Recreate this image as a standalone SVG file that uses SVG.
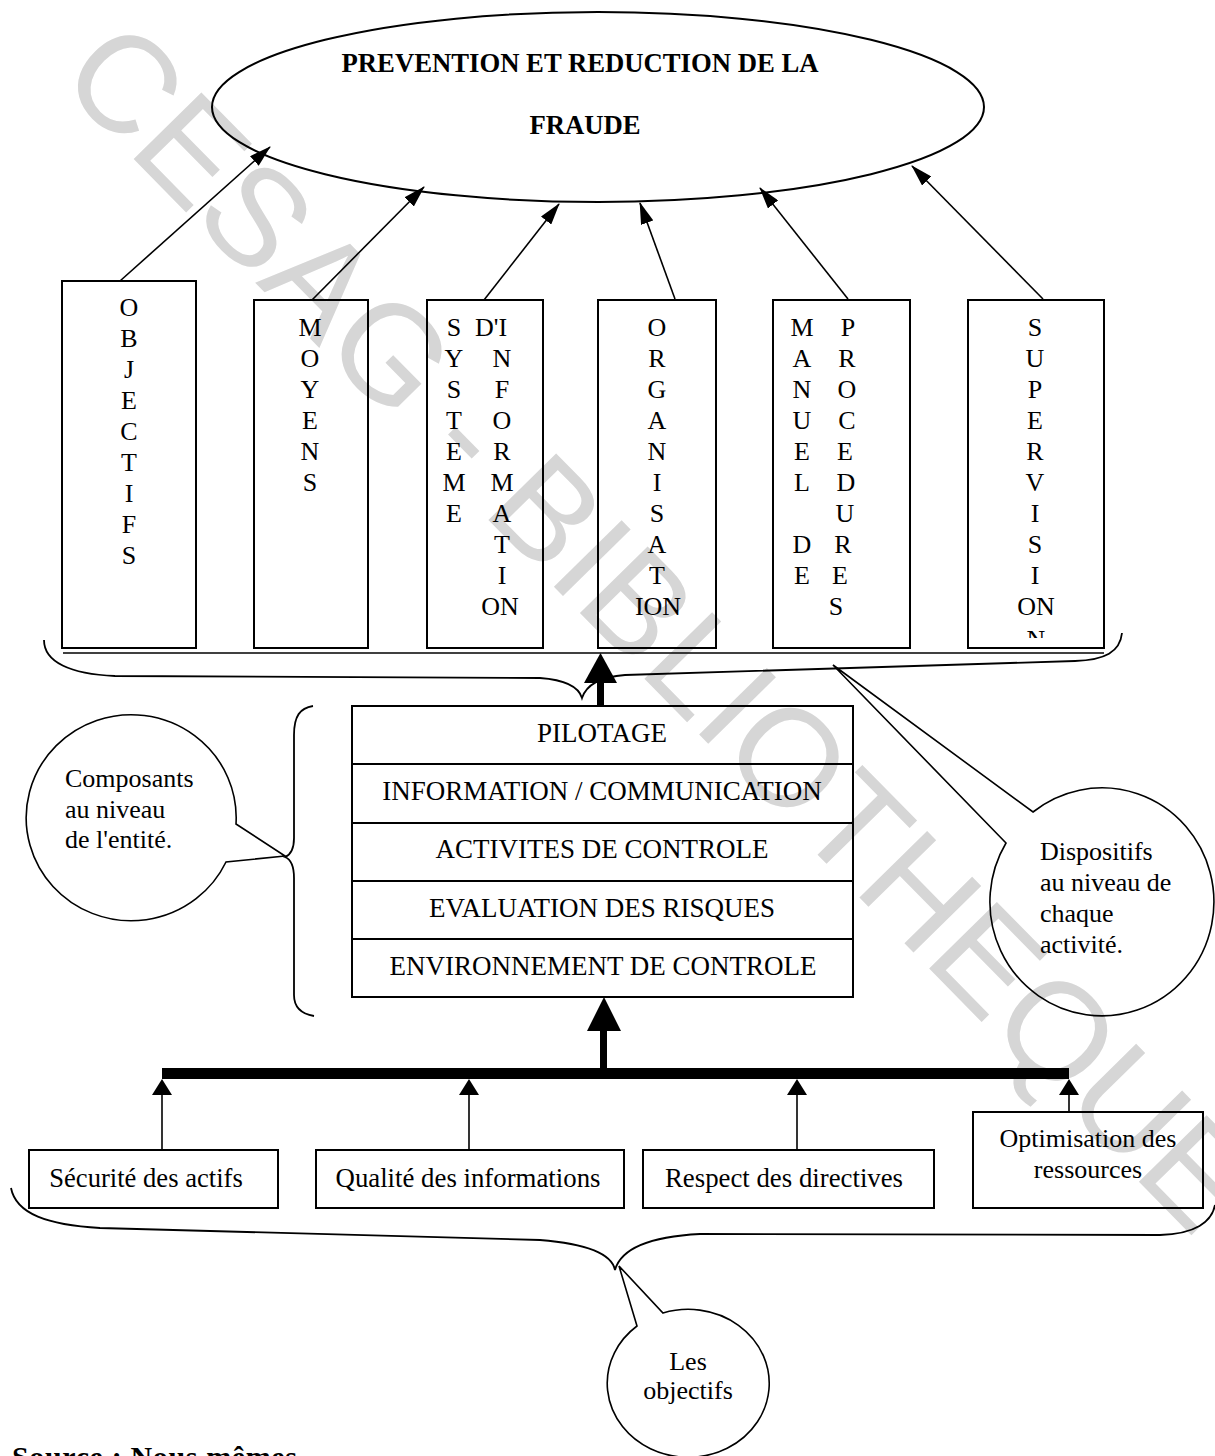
<svg xmlns="http://www.w3.org/2000/svg" width="1215" height="1456" viewBox="0 0 1215 1456">
  <defs>
    <style>
      .ln { stroke:#000; stroke-width:1.6; fill:none; }
      .br { stroke:#000; stroke-width:1.8; fill:none; }
      .box { fill:none; stroke:#000; stroke-width:2; }
      .t { font-family:"Liberation Serif","Times New Roman",serif; font-size:26px; fill:#000; }
      .s27 { font-size:27px; }
      .c { text-anchor:middle; }
      .b { font-weight:bold; }
      .wm { font-family:"Liberation Sans",Arial,sans-serif; font-size:138px; fill:#d6d6d6; }
    </style>
    <marker id="ah" viewBox="0 0 22 13" refX="21" refY="6.5" markerWidth="22" markerHeight="13" markerUnits="userSpaceOnUse" orient="auto">
      <path d="M0,0 L22,6.5 L0,13 z" fill="#000"/>
    </marker>
    <clipPath id="supclip"><rect x="968" y="300" width="136" height="338"/></clipPath>
  </defs>

  <rect width="1215" height="1456" fill="#fff"/>

  <!-- library watermark -->
  <text class="wm" transform="translate(56,80) rotate(45.5)">CESAG - BIBLIOTHEQUE</text>

  <!-- goal ellipse -->
  <g id="goal">
    <ellipse cx="598" cy="107" rx="386" ry="95" class="box"/>
    <text class="t c b" x="580" y="72" style="font-size:26.7px">PREVENTION ET REDUCTION DE LA</text>
    <text class="t c b" x="585" y="134" style="font-size:26.7px">FRAUDE</text>
  </g>

  <!-- activity-level devices -->
  <g id="objectifs">
    <rect class="box" x="62" y="281" width="134" height="367"/>
    <text class="t c" x="129" y="316"><tspan x="129">O</tspan><tspan x="129" dy="31">B</tspan><tspan x="129" dy="31">J</tspan><tspan x="129" dy="31">E</tspan><tspan x="129" dy="31">C</tspan><tspan x="129" dy="31">T</tspan><tspan x="129" dy="31">I</tspan><tspan x="129" dy="31">F</tspan><tspan x="129" dy="31">S</tspan></text>
  </g>
  <g id="moyens">
    <rect class="box" x="254" y="300" width="114" height="348"/>
    <text class="t c" x="310" y="336"><tspan x="310">M</tspan><tspan x="310" dy="31">O</tspan><tspan x="310" dy="31">Y</tspan><tspan x="310" dy="31">E</tspan><tspan x="310" dy="31">N</tspan><tspan x="310" dy="31">S</tspan></text>
  </g>
  <g id="systeme">
    <rect class="box" x="427" y="300" width="116" height="348"/>
    <text class="t c" x="454" y="336"><tspan x="454">S</tspan><tspan x="454" dy="31">Y</tspan><tspan x="454" dy="31">S</tspan><tspan x="454" dy="31">T</tspan><tspan x="454" dy="31">E</tspan><tspan x="454" dy="31">M</tspan><tspan x="454" dy="31">E</tspan></text>
    <text class="t" x="475" y="336">D'I</text>
    <text class="t c" x="502" y="367"><tspan x="502">N</tspan><tspan x="502" dy="31">F</tspan><tspan x="502" dy="31">O</tspan><tspan x="502" dy="31">R</tspan><tspan x="502" dy="31">M</tspan><tspan x="502" dy="31">A</tspan><tspan x="502" dy="31">T</tspan><tspan x="502" dy="31">I</tspan><tspan x="500" dy="31">ON</tspan></text>
  </g>
  <g id="organisation">
    <rect class="box" x="598" y="300" width="118" height="348"/>
    <text class="t c" x="657" y="336"><tspan x="657">O</tspan><tspan x="657" dy="31">R</tspan><tspan x="657" dy="31">G</tspan><tspan x="657" dy="31">A</tspan><tspan x="657" dy="31">N</tspan><tspan x="657" dy="31">I</tspan><tspan x="657" dy="31">S</tspan><tspan x="657" dy="31">A</tspan><tspan x="657" dy="31">T</tspan><tspan x="658" dy="31">ION</tspan></text>
  </g>
  <g id="manuel">
    <rect class="box" x="773" y="300" width="137" height="348"/>
    <text class="t c" x="802" y="336"><tspan x="802">M</tspan><tspan x="802" dy="31">A</tspan><tspan x="802" dy="31">N</tspan><tspan x="802" dy="31">U</tspan><tspan x="802" dy="31">E</tspan><tspan x="802" dy="31">L</tspan><tspan x="802" dy="62">D</tspan><tspan x="802" dy="31">E</tspan></text>
    <text class="t c" x="847" y="336"><tspan x="848">P</tspan><tspan x="847" dy="31">R</tspan><tspan x="847" dy="31">O</tspan><tspan x="847" dy="31">C</tspan><tspan x="845" dy="31">E</tspan><tspan x="846" dy="31">D</tspan><tspan x="845" dy="31">U</tspan><tspan x="843" dy="31">R</tspan><tspan x="840" dy="31">E</tspan><tspan x="836" dy="31">S</tspan></text>
  </g>
  <g id="supervision">
    <rect class="box" x="968" y="300" width="136" height="348"/>
    <text class="t c" x="1035" y="336"><tspan x="1035">S</tspan><tspan x="1035" dy="31">U</tspan><tspan x="1035" dy="31">P</tspan><tspan x="1035" dy="31">E</tspan><tspan x="1035" dy="31">R</tspan><tspan x="1035" dy="31">V</tspan><tspan x="1035" dy="31">I</tspan><tspan x="1035" dy="31">S</tspan><tspan x="1035" dy="31">I</tspan><tspan x="1036" dy="31">ON</tspan></text>
    <text class="t c" x="1036" y="648" clip-path="url(#supclip)">N</text>
  </g>

  <!-- entity-level components stack -->
  <g id="composants-stack">
    <rect class="box" x="352" y="706" width="501" height="58"/>
    <rect class="box" x="352" y="764" width="501" height="59"/>
    <rect class="box" x="352" y="823" width="501" height="58"/>
    <rect class="box" x="352" y="881" width="501" height="58"/>
    <rect class="box" x="352" y="939" width="501" height="58"/>
    <text class="t s27 c" x="602" y="742">PILOTAGE</text>
    <text class="t s27 c" x="602" y="800">INFORMATION / COMMUNICATION</text>
    <text class="t s27 c" x="602" y="858">ACTIVITES DE CONTROLE</text>
    <text class="t s27 c" x="602" y="917">EVALUATION DES RISQUES</text>
    <text class="t s27 c" x="603" y="975">ENVIRONNEMENT DE CONTROLE</text>
  </g>

  <!-- objective boxes -->
  <g id="securite">
    <rect class="box" x="29" y="1150" width="249" height="58"/>
    <text class="t c" x="146" y="1187" style="font-size:26.6px">Sécurité des actifs</text>
  </g>
  <g id="qualite">
    <rect class="box" x="316" y="1150" width="308" height="58"/>
    <text class="t c" x="468" y="1187" style="font-size:26.8px">Qualité des informations</text>
  </g>
  <g id="respect">
    <rect class="box" x="643" y="1150" width="291" height="58"/>
    <text class="t c" x="784" y="1187" style="font-size:26.8px">Respect des directives</text>
  </g>
  <g id="optimisation">
    <rect class="box" x="973" y="1112" width="230" height="96"/>
    <text class="t c" x="1088" y="1147">Optimisation des</text>
    <text class="t c" x="1088" y="1178">ressources</text>
  </g>

  <!-- callout bubbles -->
  <g id="bulle-composants">
    <path class="ln" d="M236,824 L285,856 L226,862 A105 103 0 1 1 236,824 Z"/>
    <text class="t" x="65" y="787">Composants</text>
    <text class="t" x="65" y="818">au niveau</text>
    <text class="t" x="65" y="848">de l'entité.</text>
  </g>
  <g id="bulle-dispositifs">
    <path class="ln" d="M1006,843 L833,665 L1033,812 A112 114 0 1 1 1006,843 Z"/>
    <text class="t" x="1040" y="860">Dispositifs</text>
    <text class="t" x="1040" y="891">au niveau de</text>
    <text class="t" x="1040" y="922">chaque</text>
    <text class="t" x="1040" y="953">activité.</text>
  </g>
  <g id="bulle-objectifs">
    <path class="ln" d="M637,1326 L619,1266 L663,1313 A81 74 0 1 1 637,1326 Z"/>
    <text class="t c" x="688" y="1370">Les</text>
    <text class="t c" x="688" y="1399">objectifs</text>
  </g>

  <!-- connectors, braces and bus -->
  <g id="connectors">
    <line class="ln" x1="120" y1="281" x2="270" y2="147" marker-end="url(#ah)"/>
    <line class="ln" x1="312" y1="300" x2="424" y2="187" marker-end="url(#ah)"/>
    <line class="ln" x1="484" y1="300" x2="559" y2="204" marker-end="url(#ah)"/>
    <line class="ln" x1="675" y1="299" x2="640" y2="203" marker-end="url(#ah)"/>
    <line class="ln" x1="848" y1="299" x2="760" y2="188" marker-end="url(#ah)"/>
    <line class="ln" x1="1043" y1="299" x2="912" y2="166" marker-end="url(#ah)"/>

    <line class="ln" x1="63" y1="653" x2="1104" y2="653"/>
    <path class="br" d="M44,640 C44,662 70,674 115,676 L540,678 C568,680 579,688 582,698 C586,686 598,677 625,675 L1075,661 C1105,660 1120,652 1122,633"/>
    <path class="br" d="M313,706 C300,708 294,716 294,735 L294,838 C294,850 290,855 285,857 C290,859 294,866 294,878 L294,995 C294,1008 302,1014 314,1016"/>
    <path class="br" d="M11,1188 C16,1214 48,1225 100,1228 L540,1240 C590,1244 612,1255 615,1270 C620,1252 642,1237 700,1234 L1160,1235 C1195,1234 1212,1222 1215,1205"/>

    <!-- stack to devices -->
    <rect x="597" y="681" width="7" height="25" fill="#000"/>
    <path d="M600.5,653 L617,683 L584,683 Z" fill="#000"/>

    <!-- bus to stack -->
    <rect x="162" y="1068" width="907" height="11" fill="#000"/>
    <rect x="600" y="1030" width="7" height="39" fill="#000"/>
    <path d="M604,997 L621,1031 L587,1031 Z" fill="#000"/>

    <!-- objectives to bus -->
    <line class="ln" x1="162" y1="1150" x2="162" y2="1094"/>
    <path d="M162,1079 L172,1095 L152,1095 Z" fill="#000"/>
    <line class="ln" x1="469" y1="1150" x2="469" y2="1094"/>
    <path d="M469,1079 L479,1095 L459,1095 Z" fill="#000"/>
    <line class="ln" x1="797" y1="1150" x2="797" y2="1094"/>
    <path d="M797,1079 L807,1095 L787,1095 Z" fill="#000"/>
    <line class="ln" x1="1069" y1="1112" x2="1069" y2="1094"/>
    <path d="M1069,1079 L1079,1095 L1059,1095 Z" fill="#000"/>
  </g>

  <text class="t b" x="12" y="1467" style="font-size:30px" textLength="285" lengthAdjust="spacing">Source : Nous mêmes</text>
</svg>
